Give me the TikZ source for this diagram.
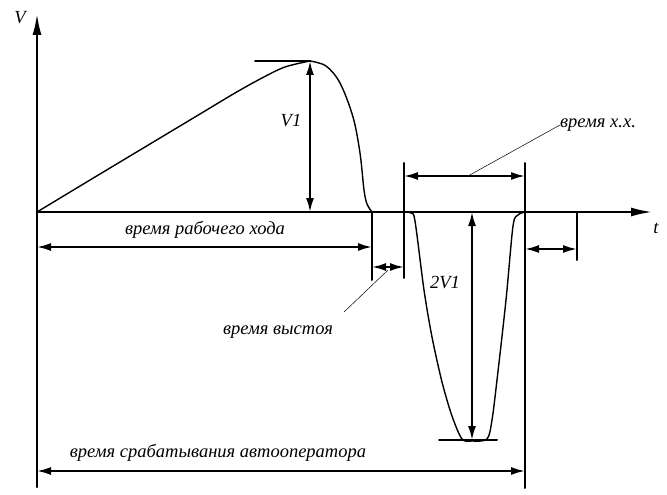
\documentclass[tikz,border=0pt]{standalone}
\usepackage{fontspec}
\setmainfont{Liberation Serif}
\usetikzlibrary{arrows.meta}

\begin{document}
\begin{tikzpicture}[line cap=round,line join=round,x=1pt,y=-1pt,
  axis/.style={line width=2.6pt,-{Latex[length=22pt,width=9pt]}},
  dimarrow/.style={line width=2pt,{Latex[length=14pt,width=8pt]}-{Latex[length=14pt,width=8pt]}},
  ext/.style={line width=2pt},
  curve/.style={line width=1.4pt},
  leader/.style={line width=0.5pt},
  lbl/.style={font=\itshape\fontsize{18.5}{20}\selectfont,inner sep=0pt}]
\useasboundingbox (0,0) rectangle (667,495);
% axes
\coordinate (O) at (37,212);
\coordinate (Vtop) at (37,13);
\coordinate (Vbot) at (37,487);
\coordinate (ttip) at (653,212);
\draw[axis] (Vbot) -- (Vtop);
\draw[axis] (O) -- (ttip);
\node[lbl] (V) at (20,18) {V};
\node[lbl] (t) at (656,228) {t};
% working stroke
\draw[curve] plot[smooth,tension=0.55] coordinates {(37,212) (100,174) (160,138) (200,114) (235,93) (262,78) (285,67) (310,61)};
\draw[curve] plot[smooth,tension=0.55] coordinates {(310,61) (326,66) (340,83) (353,117) (360,153) (364,190) (367,204) (372,212)};
\coordinate (peak) at (310,61);
\coordinate (peakbase) at (310,212);
\coordinate (tangent) at (255,61);
\draw[ext] (tangent) -- (peak);
\draw[dimarrow] (peakbase) -- (peak);
\node[lbl] (V1) at (291,121) {V1};
% return stroke
\draw[curve] plot[smooth,tension=0.5] coordinates {(404,212) (411,213) (415,221) (424,290) (432,337) (442,382) (452,416) (462,439) (472,441) (487,439) (492,420) (497,380) (506,300) (513,226) (518,215) (525,212)};
\coordinate (trough) at (472,440);
\coordinate (troughbase) at (472,212);
\coordinate (troughL) at (439,440);
\coordinate (troughR) at (497,440);
\draw[ext] (troughL) -- (troughR);
\draw[dimarrow] (troughbase) -- (trough);
\node[lbl] (V2) at (445,283) {2V1};
% extension lines
\coordinate (a1) at (372,212);
\coordinate (a2) at (372,280);
\coordinate (b1) at (404,163);
\coordinate (b2) at (404,278);
\coordinate (c1) at (525,163);
\coordinate (c2) at (525,488);
\coordinate (d1) at (577,212);
\coordinate (d2) at (577,260);
\draw[ext] (a1) -- (a2);
\draw[ext] (b1) -- (b2);
\draw[ext] (c1) -- (c2);
\draw[ext] (d1) -- (d2);
% time intervals
\coordinate (work1) at (37,247);
\coordinate (work2) at (372,247);
\draw[dimarrow] (work1) -- (work2);
\node[lbl] (work) at (205,230) {время рабочего хода};
\coordinate (dwell1) at (372,267);
\coordinate (dwell2) at (404,267);
\coordinate (dwellpt) at (388,270);
\draw[dimarrow] (dwell1) -- (dwell2);
\node[lbl] (dwell) at (278,332) {время выстоя};
\draw[leader] (dwellpt) -- (344,312);
\coordinate (idle1) at (404,176);
\coordinate (idle2) at (525,176);
\coordinate (idlept) at (468,176);
\draw[dimarrow] (idle1) -- (idle2);
\node[lbl] (idle) at (598,125) {время х.х.};
\draw[leader] (idlept) -- (idle.west);
\coordinate (gap1) at (525,249);
\coordinate (gap2) at (577,249);
\draw[dimarrow] (gap1) -- (gap2);
\coordinate (cyc1) at (37,471);
\coordinate (cyc2) at (525,471);
\draw[dimarrow] (cyc1) -- (cyc2);
\node[lbl] (cycle) at (218,453) {время срабатывания автооператора};
\end{tikzpicture}
\end{document}
